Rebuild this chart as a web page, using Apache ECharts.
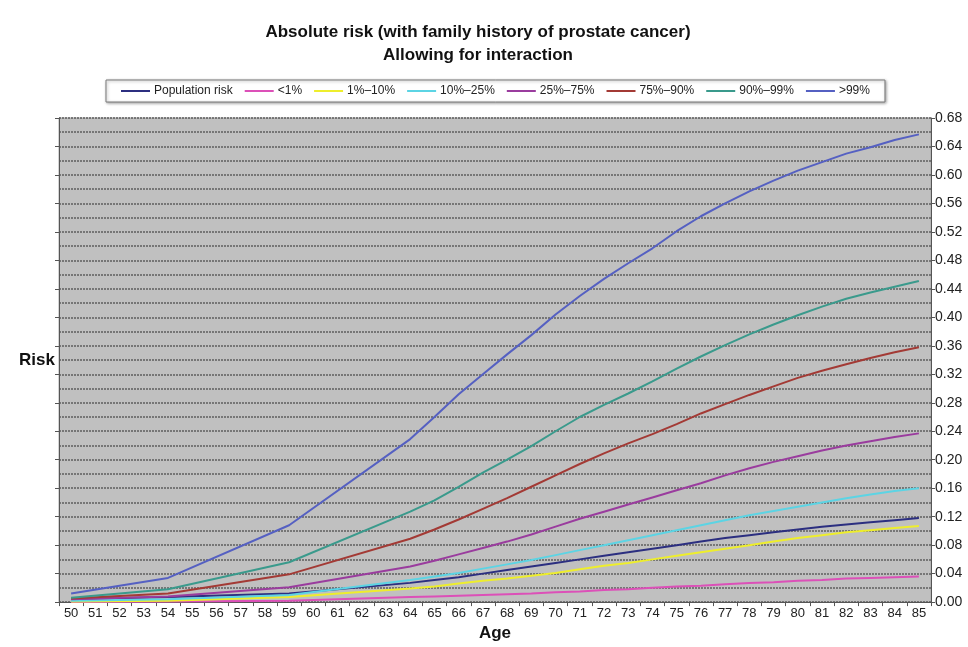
<!DOCTYPE html>
<html>
<head>
<meta charset="utf-8">
<script src="https://cdn.jsdelivr.net/npm/echarts@6/dist/echarts.min.js"></script>
<style>
  html, body { margin: 0; padding: 0; background: #fff; }
  #chart { width: 968px; height: 647px; }
</style>
</head>
<body>
<div id="chart"></div>
<script>
// ages 50..85, knots at 50, 54, 59 then yearly from 64 (gaps joined straight)
var ages = [50,51,52,53,54,55,56,57,58,59,60,61,62,63,64,65,66,67,68,69,70,71,72,73,74,75,76,77,78,79,80,81,82,83,84,85];

var populationRisk = [0.004,null,null,null,0.007,null,null,null,null,0.012,null,null,null,null,0.027,0.031,0.035,0.040,0.045,0.050,0.055,0.060,0.065,0.070,0.075,0.080,0.085,0.090,0.094,0.098,0.102,0.106,0.109,0.112,0.115,0.118];
var lt1 = [0.000,null,null,null,0.001,null,null,null,null,0.002,null,null,null,null,0.007,0.008,0.009,0.010,0.011,0.012,0.014,0.015,0.017,0.018,0.020,0.022,0.023,0.025,0.027,0.028,0.030,0.031,0.033,0.034,0.035,0.036];
var p1to10 = [0.001,null,null,null,0.002,null,null,null,null,0.007,null,null,null,null,0.019,0.022,0.026,0.030,0.033,0.037,0.041,0.046,0.051,0.055,0.060,0.065,0.070,0.075,0.080,0.085,0.090,0.094,0.098,0.101,0.104,0.107];
var p10to25 = [0.002,null,null,null,0.004,null,null,null,null,0.010,null,null,null,null,0.031,0.036,0.041,0.047,0.053,0.059,0.066,0.073,0.080,0.087,0.094,0.101,0.108,0.115,0.122,0.128,0.134,0.140,0.146,0.151,0.156,0.160];
var p25to75 = [0.004,null,null,null,0.008,null,null,null,null,0.021,null,null,null,null,0.050,0.058,0.067,0.076,0.085,0.095,0.106,0.117,0.127,0.137,0.147,0.157,0.167,0.178,0.188,0.197,0.205,0.213,0.220,0.226,0.232,0.237];
var p75to90 = [0.005,null,null,null,0.012,null,null,null,null,0.039,null,null,null,null,0.089,0.102,0.116,0.131,0.146,0.162,0.178,0.194,0.209,0.223,0.236,0.250,0.265,0.278,0.291,0.303,0.315,0.325,0.334,0.343,0.351,0.358];
var p90to99 = [0.006,null,null,null,0.018,null,null,null,null,0.056,null,null,null,null,0.127,0.143,0.162,0.182,0.200,0.219,0.240,0.260,0.277,0.293,0.310,0.328,0.345,0.361,0.376,0.390,0.403,0.415,0.426,0.435,0.443,0.451];
var gt99 = [0.012,null,null,null,0.034,null,null,null,null,0.108,null,null,null,null,0.229,0.260,0.292,0.320,0.348,0.375,0.404,0.430,0.454,0.476,0.497,0.521,0.542,0.560,0.577,0.592,0.606,0.618,0.630,0.639,0.649,0.657];

var seriesNames = ['Population risk','<1%','1%\u201310%','10%\u201325%','25%\u201375%','75%\u201390%','90%\u201399%','>99%'];
var seriesData = [populationRisk, lt1, p1to10, p10to25, p25to75, p75to90, p90to99, gt99];
var seriesColors = ['#2c2f80','#dc50b8','#eeee2c','#5cd4e4','#9a3c9e','#a33a35','#3a9a8c','#5560c2'];

var myChart = echarts.init(document.getElementById('chart'));

var gridLine = { lineStyle: { color: '#5e5e5e', width: 1.5, type: [2, 1] } };

var option = {
  animation: false,
  textStyle: { fontFamily: 'Liberation Sans, Arial, sans-serif' },
  title: {
    text: 'Absolute risk (with family history of prostate cancer)\nAllowing for interaction',
    left: 473,
    textAlign: 'center',
    top: 16,
    textStyle: { fontSize: 17, fontWeight: 'bold', color: '#111', lineHeight: 23 }
  },
  legend: {
    data: seriesNames.map(function (n) { return { name: n, icon: 'rect' }; }),
    left: 106,
    top: 80,
    padding: [5, 15],
    itemGap: 12,
    itemWidth: 29,
    itemHeight: 2,
    backgroundColor: '#fff',
    borderColor: '#7a7a7a',
    borderWidth: 1,
    shadowColor: 'rgba(0,0,0,0.35)',
    shadowBlur: 3,
    shadowOffsetX: 1,
    shadowOffsetY: 1,
    textStyle: { fontSize: 12, color: '#222', padding: [0, 0, 0, -1] }
  },
  grid: {
    left: 59, right: 37, top: 118, bottom: 40,
    show: true,
    backgroundColor: '#c0c0c0',
    borderColor: '#a8a8a8',
    borderWidth: 1
  },
  xAxis: {
    type: 'category',
    data: ages,
    boundaryGap: true,
    name: 'Age',
    nameLocation: 'middle',
    nameGap: 19,
    nameTextStyle: { fontSize: 17, fontWeight: 'bold', color: '#111' },
    axisLine: { lineStyle: { color: '#555', width: 1 } },
    axisTick: { show: true, length: 4, lineStyle: { color: '#555' } },
    axisLabel: { fontSize: 13, color: '#222', margin: 5, interval: 0 },
    splitLine: { show: false }
  },
  yAxis: [
    {
      type: 'value',
      position: 'right',
      min: 0, max: 0.68, interval: 0.04,
      axisLine: { show: true, lineStyle: { color: '#555' } },
      axisTick: { show: true, length: 4, lineStyle: { color: '#555' } },
      axisLabel: { fontSize: 14, color: '#222', margin: 4, formatter: function (v) { return v.toFixed(2); } },
      splitLine: gridLine,
      minorTick: { show: false, splitNumber: 2 },
      minorSplitLine: { show: true, lineStyle: gridLine.lineStyle }
    },
    {
      type: 'value',
      position: 'left',
      min: 0, max: 0.68, interval: 0.04,
      name: 'Risk',
      nameLocation: 'middle',
      nameRotate: 0,
      nameGap: 4,
      nameTextStyle: { fontSize: 17, fontWeight: 'bold', color: '#111', align: 'right' },
      axisLine: { show: true, lineStyle: { color: '#555' } },
      axisTick: { show: true, length: 4, lineStyle: { color: '#555' } },
      axisLabel: { show: false },
      splitLine: { show: false }
    }
  ],
  series: seriesNames.map(function (name, i) {
    return {
      name: name,
      type: 'line',
      data: seriesData[i],
      connectNulls: true,
      symbol: 'none',
      smooth: false,
      lineStyle: { color: seriesColors[i], width: 2 },
      itemStyle: { color: seriesColors[i] }
    };
  })
};

myChart.setOption(option);
window.addEventListener('resize', function () {
  myChart.resize();
});
</script>
</body>
</html>
